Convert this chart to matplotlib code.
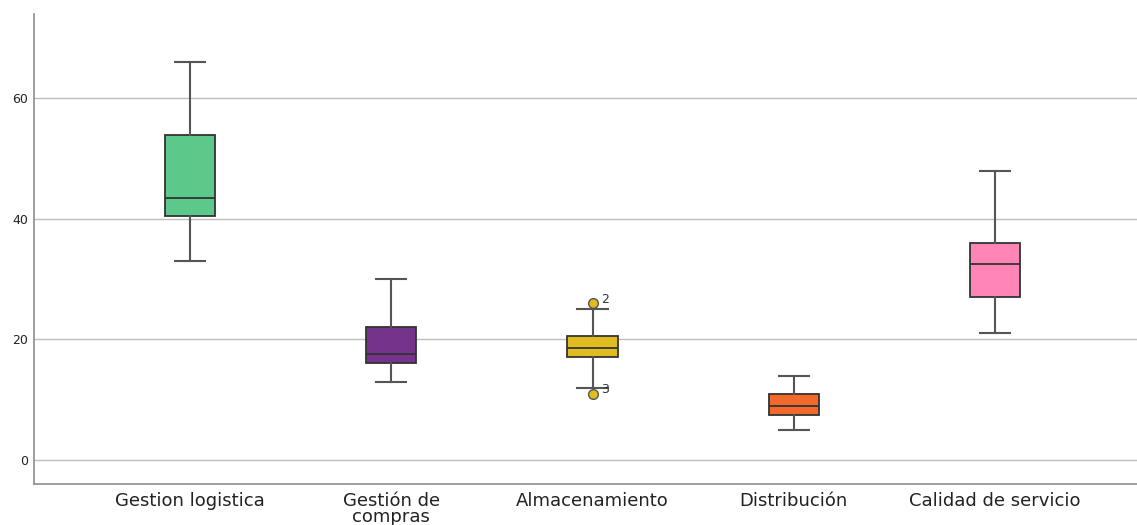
import numpy as np
import matplotlib.pyplot as plt

plt.rcParams['font.family'] = ['DejaVu Sans']

# five-number summaries per dimension
categorias = ["Gestion logistica", "Gestión de\ncompras", "Almacenamiento",
              "Distribución", "Calidad de servicio"]
minimos = [33, 13, 12, 5, 21]
q1 = [40.5, 16, 17, 7.5, 27]
medianas = [43.5, 17.5, 18.5, 9, 32.5]
q3 = [54, 22, 20.5, 11, 36]
maximos = [66, 30, 25, 14, 48]
atipicos = [[], [], [26, 11], [], []]
etiquetas_atipicos = [[], [], ["2", "3"], [], []]
colores = ["#5cc98a", "#76338c", "#e0bc20", "#f26a2b", "#ff85b7"]

stats = []
for i in range(len(categorias)):
    stats.append(dict(whislo=minimos[i], q1=q1[i], med=medianas[i], q3=q3[i],
                      whishi=maximos[i], fliers=atipicos[i]))

fig = plt.figure(figsize=(11.37, 5.25), dpi=100)
ax = fig.add_axes([0.0299, 0.0781, 0.9701, 0.8952])

pos = np.arange(len(categorias))
bp = ax.bxp(stats, positions=pos, widths=0.25, capwidths=0.15, patch_artist=True,
            boxprops=dict(edgecolor="#333333", linewidth=1.3),
            medianprops=dict(color="#333333", linewidth=1.3),
            whiskerprops=dict(color="#555555", linewidth=1.5),
            capprops=dict(color="#555555", linewidth=1.5),
            flierprops=dict(marker="o", markersize=7, markeredgecolor="#555555",
                            markeredgewidth=1.0), zorder=3)
for caja, c in zip(bp["boxes"], colores):
    caja.set_facecolor(c)
for fl, c in zip(bp["fliers"], colores):
    fl.set_markerfacecolor(c)

# case numbers next to the outliers
for i in range(len(categorias)):
    for v, t in zip(atipicos[i], etiquetas_atipicos[i]):
        ax.annotate(t, (pos[i], v), xytext=(6, 3), textcoords="offset points",
                    fontsize=9, color="#333333", va="center")

ax.set_ylim(-4, 74)
ax.set_xlim(-0.776, 4.706)
ax.set_yticks([0, 20, 40, 60])
ax.set_xticks(pos)
ax.set_xticklabels(categorias, fontsize=13, va="top", linespacing=0.85)
ax.tick_params(axis="both", length=0, colors="#222222")
ax.tick_params(axis="y", labelsize=9, pad=4)
ax.tick_params(axis="x", pad=6)
ax.yaxis.grid(True, color="#bdbdbd", linewidth=1)
ax.set_axisbelow(True)
for lado in ["top", "right"]:
    ax.spines[lado].set_visible(False)
for lado in ["left", "bottom"]:
    ax.spines[lado].set_color("#8c8c8c")
    ax.spines[lado].set_linewidth(1.2)

fig.savefig("out.png", dpi=100)
